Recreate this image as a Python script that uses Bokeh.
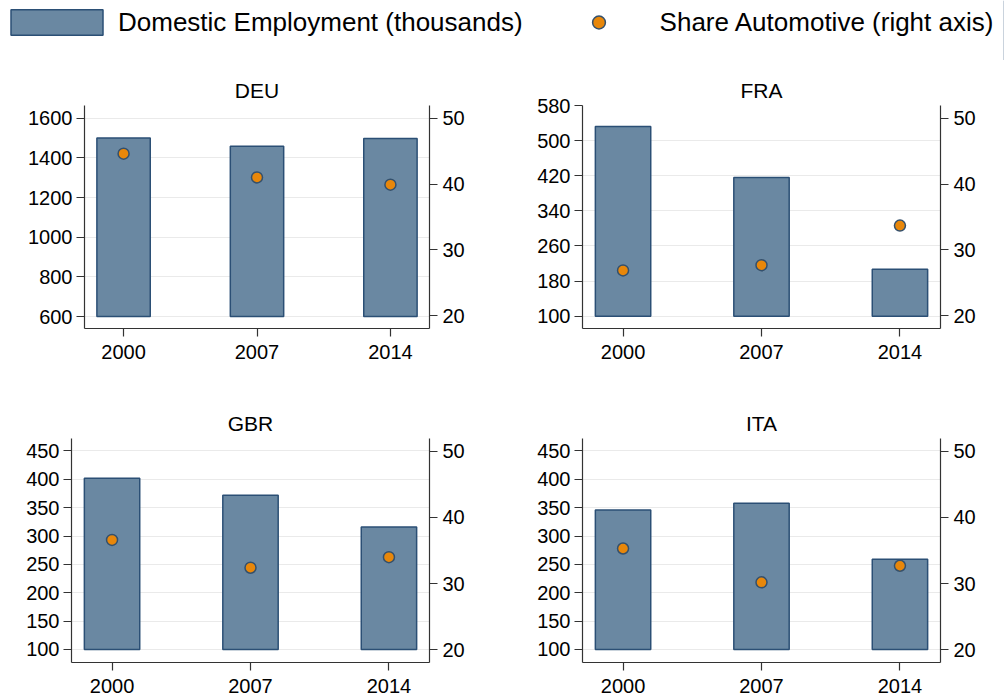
from bokeh.plotting import figure
from bokeh.models import Range1d, LinearAxis, FixedTicker, Legend, LegendItem, ColumnDataSource
from bokeh.layouts import column, row
from bokeh.embed import file_html
from bokeh.resources import INLINE

years = [2000, 2007, 2014]

deu_emp = [1500, 1459, 1498]
deu_share = [44.6, 41.0, 39.9]
fra_emp = [532, 416, 207]
fra_share = [26.9, 27.7, 33.7]
gbr_emp = [402, 372, 316]
gbr_share = [36.6, 32.4, 34.0]
ita_emp = [346, 358, 259]
ita_share = [35.3, 30.2, 32.7]

deu_ticks = [600, 800, 1000, 1200, 1400, 1600]
fra_ticks = [100, 180, 260, 340, 420, 500, 580]
gbr_ticks = [100, 150, 200, 250, 300, 350, 400, 450]
ita_ticks = [100, 150, 200, 250, 300, 350, 400, 450]
right_ticks = [20, 30, 40, 50]

FONT = "Liberation Sans"
BAR_FILL = "#6A88A2"
BAR_LINE = "#2B4F75"
DOT_FILL = "#E8870A"
DOT_LINE = "#34506C"
AXIS_C = "#333333"


def style_axis(ax, standoff):
    ax.axis_line_color = AXIS_C
    ax.axis_line_width = 1.2
    ax.major_tick_line_color = AXIS_C
    ax.major_tick_line_width = 1.2
    ax.major_tick_out = 8
    ax.major_tick_in = 0
    ax.minor_tick_line_color = None
    ax.major_label_text_font = FONT
    ax.major_label_text_font_size = "20px"
    ax.major_label_text_color = "#000000"
    ax.major_label_standoff = standoff


def panel(name, emp, share, ticks, yr, left, right, top, bottom, fw, fh):
    p = figure(frame_width=fw, frame_height=fh,
               x_range=Range1d(1997.95, 2016.05), y_range=Range1d(*yr),
               output_backend="svg", toolbar_location=None,
               min_border_left=left, min_border_right=right,
               min_border_top=top, min_border_bottom=bottom,
               title=name)
    p.extra_y_ranges = {"right": Range1d(18.1, 51.9)}
    p.outline_line_color = None
    p.background_fill_color = "white"
    p.border_fill_color = "white"
    p.title.align = "center"
    p.title.text_font = FONT
    p.title.text_font_size = "21px"
    p.title.text_font_style = "normal"
    p.title.text_color = "#000000"
    p.title.standoff = 8

    p.xaxis.ticker = FixedTicker(ticks=years)
    p.yaxis.ticker = FixedTicker(ticks=ticks)
    style_axis(p.xaxis[0], 8)
    style_axis(p.yaxis[0], 4)
    ra = LinearAxis(y_range_name="right", ticker=FixedTicker(ticks=right_ticks))
    style_axis(ra, 5)
    p.add_layout(ra, "right")

    p.xgrid.grid_line_color = None
    p.ygrid.ticker = FixedTicker(ticks=ticks)
    p.ygrid.grid_line_color = "#EAEAEA"
    p.ygrid.grid_line_width = 1.2

    src = ColumnDataSource(dict(x=years, emp=emp, share=share))
    p.vbar(x="x", top="emp", bottom=ticks[0], width=2.8, source=src,
           fill_color=BAR_FILL, line_color=BAR_LINE, line_width=1.5)
    p.scatter(x="x", y="share", y_range_name="right", source=src, size=11,
              fill_color=DOT_FILL, line_color=DOT_LINE, line_width=1.5)
    return p


p_deu = panel("DEU", deu_emp, deu_share, deu_ticks, (539.5, 1664), 84, 71, 45, 67, 345, 223)
p_fra = panel("FRA", fra_emp, fra_share, fra_ticks, (72, 580), 82, 64, 45, 67, 358, 223)
p_gbr = panel("GBR", gbr_emp, gbr_share, gbr_ticks, (77, 472), 71, 71, 43, 34, 358, 224)
p_ita = panel("ITA", ita_emp, ita_share, ita_ticks, (77, 472), 82, 64, 43, 34, 358, 224)

# legend strip
leg = figure(width=1004, height=60, x_range=Range1d(0, 1), y_range=Range1d(0, 1),
             output_backend="svg", toolbar_location=None,
             min_border=0)
leg.axis.visible = False
leg.grid.visible = False
leg.outline_line_color = None
hidden = ColumnDataSource(dict(x=[5], y=[5]))
r1 = leg.vbar(x="x", top="y", width=1, source=hidden,
              fill_color=BAR_FILL, line_color=BAR_LINE, line_width=1.5)
r2 = leg.scatter(x="x", y="y", source=hidden, size=11,
                 fill_color=DOT_FILL, line_color=DOT_LINE, line_width=1.5)
legend = Legend(items=[LegendItem(label="Domestic Employment (thousands)", renderers=[r1]),
                       LegendItem(label="Share Automotive (right axis)", renderers=[r2])],
                orientation="horizontal", location=(-1, 22),
                glyph_width=115, glyph_height=32, label_standoff=4, spacing=18,
                padding=0, margin=0, border_line_color=None,
                background_fill_alpha=0,
                label_text_font=FONT, label_text_font_size="26px",
                label_text_color="#000000")
leg.add_layout(legend, "center")

layout = column(leg, row(p_deu, p_fra), row(p_gbr, p_ita))

open("out.html", "w").write(file_html(layout, INLINE))
